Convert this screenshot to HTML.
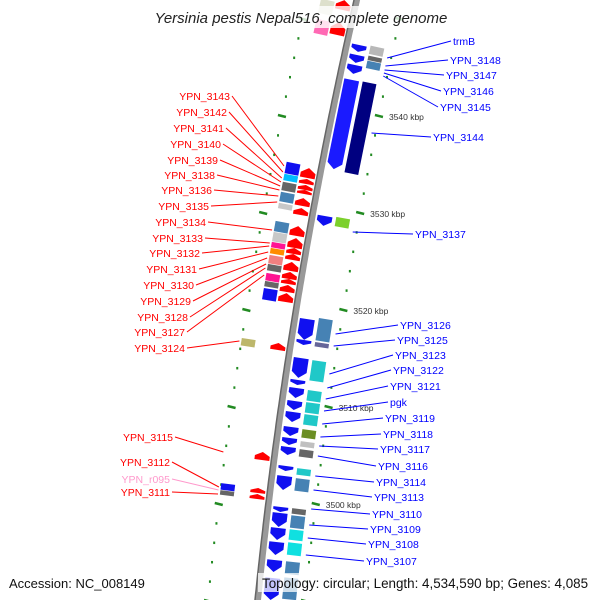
<!DOCTYPE html>
<html><head><meta charset="utf-8"><style>
html,body{margin:0;padding:0;background:#fff}
svg{display:block;font-family:"Liberation Sans",sans-serif}
</style></head><body>
<svg id="map" width="600" height="600" viewBox="0 0 600 600">
<g id="ticks"></g>
<path id="bb" fill="none" stroke="#999" stroke-width="6"/>
<path id="bb2" fill="none" stroke="#666" stroke-width="1.5"/>
<g id="feats"></g>
<g id="labels"></g>
<rect x="145" y="6" width="312" height="22" fill="#fff" opacity="0.8"/>
<text x="301" y="23" text-anchor="middle" font-size="15" font-style="italic" fill="#222">Yersinia pestis Nepal516, complete genome</text>
<text x="9" y="588" font-size="13" fill="#111">Accession: NC_008149</text>
<rect x="258" y="573" width="342" height="19" fill="#fff" opacity="0.75"/>
<text x="262" y="588" font-size="13.4" fill="#111">Topology: circular; Length: 4,534,590 bp; Genes: 4,085</text>
</svg>
<script>
// scale ticks (kbp)
const tickKbp=[3540,3530,3520,3510,3500];
// right-side features: [startY,endY,lane,color]
const rightFeats=[[45,52,'a','#1010f0'],[55,63,'a','#1010f0'],[65,74,'a','#1010f0'],[47,56,'b','#b8b8b8'],[57,62,'b','#666'],[62,70,'b','#4682b4'],
[79,170,'a','#1a1aff'],[82,175,'b','#000080'],[216,226,'a','#1010f0'],[218,228,'b','#7cd02c'],
[319,340,'a','#1010f0'],[319,342,'b','#4682b4'],[340,345,'a','#1010f0'],[343,348,'b','#666699'],
[358,378,'a','#1010f0'],[361,382,'b','#20c8c8'],[380,385,'a','#1010f0'],
[388,398,'a','#1010f0'],[401,410,'a','#1010f0'],[412,422,'a','#1010f0'],[391,402,'b','#20c8c8'],[403,414,'b','#20c8c8'],[415,426,'b','#20c8c8'],
[427,436,'a','#1010f0'],[438,445,'a','#1010f0'],[447,455,'a','#1010f0'],[430,439,'b','#6b8e23'],[442,448,'b','#c0c0c0'],[450,458,'b','#666'],
[466,471,'a','#1010f0'],[476,490,'a','#1010f0'],[469,476,'b','#20c8c8'],[479,492,'b','#4682b4'],
[507,512,'a','#1010f0'],[513,527,'a','#1010f0'],[528,540,'a','#1010f0'],[542,555,'a','#1010f0'],[509,515,'b','#666'],[516,529,'b','#4682b4'],[530,541,'b','#10e0e0'],[543,556,'b','#10e0e0'],
[560,572,'a','#1010f0'],[562,575,'b','#4682b4'],[578,600,'a','#1010f0'],[578,600,'b','#4682b4']];
// left-side features
const leftFeats=[[0,10,'a','#ff0000'],[22,35,'a','#ff0000'],[0,15,'b','#dde0cc'],[20,35,'b','#ff69b4'],
[168,178,'a','#ff0000'],[179,184,'a','#ff0000'],[185,190,'a','#ff0000'],[190,194,'a','#ff0000'],[198,206,'a','#ff0000'],[208,215,'a','#ff0000'],
[226,236,'a','#ff0000'],[238,248,'a','#ff0000'],[248,254,'a','#ff0000'],[254,260,'a','#ff0000'],[262,271,'a','#ff0000'],[272,279,'a','#ff0000'],[279,284,'a','#ff0000'],[285,292,'a','#ff0000'],[293,302,'a','#ff0000'],
[163,175,'b','#1010f0'],[175,182,'b','#00bfff'],[183,192,'b','#666'],[193,203,'b','#4682b4'],[204,210,'b','#c8c8c8'],
[222,233,'b','#4682b4'],[233,243,'b','#c8c8c8'],[243,249,'b','#ff1493'],[249,255,'b','#ff8c00'],[256,265,'b','#f08080'],[265,272,'b','#666'],[274,282,'b','#ff1493'],[282,288,'b','#666'],[289,301,'b','#1010f0'],
[343,350,'a','#ff0000'],[339,347,'c','#bdb76b'],[452,460,'a','#ff0000'],[488,493,'a','#ff0000'],[494,499,'a','#ff0000'],[484,491,'c','#1010f0'],[491,496,'c','#666']];
const rightNames=['trmB','YPN_3148','YPN_3147','YPN_3146','YPN_3145','YPN_3144','YPN_3137','YPN_3126','YPN_3125','YPN_3123','YPN_3122','YPN_3121','pgk','YPN_3119','YPN_3118','YPN_3117','YPN_3116','YPN_3114','YPN_3113','YPN_3110','YPN_3109','YPN_3108','YPN_3107'];
const rightTextY=[45,64,79,95,111,141,238,329,344,359,374,390,406,422,438,453,470,486,501,518,533,548,565];
const rightTextX=[453,450,446,443,440,433,415,400,397,395,393,390,390,385,383,380,378,376,374,372,370,368,366];
const rightTargetY=[58,66,70,73,76,133,232,334,346,374,388,399,411,424,437,446,456,476,490,509,525,538,555];
const leftNames=['YPN_3143','YPN_3142','YPN_3141','YPN_3140','YPN_3139','YPN_3138','YPN_3136','YPN_3135','YPN_3134','YPN_3133','YPN_3132','YPN_3131','YPN_3130','YPN_3129','YPN_3128','YPN_3127','YPN_3124','YPN_3115','YPN_3112','YPN_r095','YPN_3111'];
const leftTextY=[100,116,132,148,164,179,194,210,226,242,257,273,289,305,321,336,352,441,466,483,496];
const leftTextX=[230,227,224,221,218,215,212,209,206,203,200,197,194,191,188,185,185,173,170,170,170];
const leftTargetY=[166,172,178,182,186,190,196,202,230,243,246,252,258,264,268,275,341,452,487,490,494];

const NS='http://www.w3.org/2000/svg';
function bx(y){return 357-0.2283*y+0.0001056*y*y;}
function slopeDeg(y){return Math.atan(0.2283-0.0002112*y)*180/Math.PI;}
function kY(k){return 116+(3540-k)*9.7;}
function mk(tag,attrs,parent){const e=document.createElementNS(NS,tag);for(const k in attrs)e.setAttribute(k,attrs[k]);parent.appendChild(e);return e;}
let d='M'+bx(-5)+' -5';for(let y=0;y<=605;y+=5)d+=' L'+bx(y).toFixed(1)+' '+y;
document.getElementById('bb').setAttribute('d',d);
let d2='M'+(bx(-5)-3)+' -5';for(let y=0;y<=605;y+=5)d2+=' L'+(bx(y)-3).toFixed(1)+' '+y;
document.getElementById('bb2').setAttribute('d',d2);

const tg=document.getElementById('ticks');
for(let k=3550;k>=3490;k-=2){const y=kY(k);if(y<-5||y>605)continue;
  const big=(k%10===0);
  [[47,'r'],[-50,'l']].forEach(([off,s])=>{
    const x=bx(y)+off;
    const t=mk('line',{x1:x-(big?4:1),y1:y-(big?1:0),x2:x+(big?4:1),y2:y+(big?1:0),stroke:'#228b22','stroke-width':2.5},tg);
    
    
  });
}
tickKbp.forEach(k=>{const y=kY(k);const t=mk('text',{x:bx(y)+57,y:y+4,'font-size':'8.5',fill:'#333'},tg);t.textContent=k+' kbp';
  
  });

const fg=document.getElementById('feats');
function feat(f,side){
  const [y0,y1,lane,col]=f;const yc=(y0+y1)/2;const c=bx(yc);
  let x0,w,arrow;
  if(side==='r'){ if(lane==='a'){x0=c+5;w=15;arrow=true;}else{x0=c+24;w=14;arrow=false;} }
  else { if(lane==='a'){x0=c-20;w=15;arrow=true;}else if(lane==='b'){x0=c-36;w=14;arrow=false;}else{x0=c-50;w=14;arrow=false;} }
  const h=y1-y0;let el;
  const rot='rotate('+slopeDeg(yc).toFixed(2)+' '+(x0+w/2).toFixed(1)+' '+yc+')';
  if(arrow){const head=Math.min(6,h*0.5);
    const pts=side==='r'?[[x0,y0],[x0+w,y0],[x0+w,y1-head],[x0+w/2,y1],[x0,y1-head]]:[[x0+w/2,y0],[x0+w,y0+head],[x0+w,y1],[x0,y1],[x0,y0+head]];
    el=mk('polygon',{points:pts.map(p=>p.join(',')).join(' '),fill:col,transform:rot},fg);
  } else { el=mk('rect',{x:x0,y:y0,width:w,height:Math.max(h-0.5,1),fill:col,transform:rot},fg); }
  
  
}
rightFeats.forEach(f=>feat(f,'r'));leftFeats.forEach(f=>feat(f,'l'));

const lg=document.getElementById('labels');
rightNames.forEach((n,i)=>{const ty=rightTargetY[i];const sx=bx(ty)+43;
  const l=mk('line',{x1:sx,y1:ty,x2:rightTextX[i]-2,y2:rightTextY[i]-4,stroke:'#0000ff','stroke-width':1},lg);
  
  
  const t=mk('text',{x:rightTextX[i],y:rightTextY[i],'font-size':'10.5',fill:'#0000ff'},lg);t.textContent=n;
  
  
});
leftNames.forEach((n,i)=>{const ty=leftTargetY[i];const sx=bx(ty)-(i>=16?52:38);
  const col=n==='YPN_r095'?'#ff99cc':'#ff0000';
  const l=mk('line',{x1:leftTextX[i]+2,y1:leftTextY[i]-4,x2:sx,y2:ty,stroke:col,'stroke-width':1},lg);
  
  
  const t=mk('text',{x:leftTextX[i],y:leftTextY[i],'font-size':'10.5',fill:col,'text-anchor':'end'},lg);t.textContent=n;
  
  
});
</script>
</body></html>
